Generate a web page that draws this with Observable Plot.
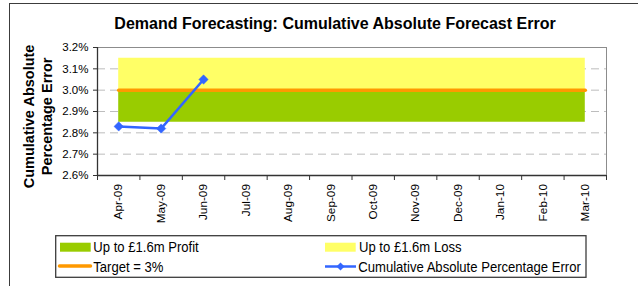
<!DOCTYPE html>
<html>
<head>
<meta charset="utf-8">
<script src="https://cdn.jsdelivr.net/npm/d3@7"></script>
<script src="https://cdn.jsdelivr.net/npm/@observablehq/plot@0.6"></script>
<style>
  html, body { margin: 0; padding: 0; background: #fff; }
  #wrap { position: relative; width: 638px; height: 286px; overflow: hidden; background: #fff; font-family: "Liberation Sans", Arial, sans-serif; }
  #frame { position: absolute; left: 9px; top: 3px; width: 700px; height: 400px; border: 1.5px solid #3c3c3c; box-sizing: border-box; }
  #chart { position: absolute; left: 0; top: 0; }
  #chart g[aria-label="x-axis tick label"], #chart g[aria-label="x-axis tick label"] text { font-size: 11.8px !important; font-family: "Liberation Sans", Arial, sans-serif !important; }
  #chart g[aria-label="y-axis tick label"], #chart g[aria-label="y-axis tick label"] text { font-size: 11.5px !important; font-family: "Liberation Sans", Arial, sans-serif !important; }
  #title { position: absolute; left: 0; top: 15.5px; width: 670px; text-align: center; font-weight: bold; font-size: 16px; line-height: 16px; color: #000; white-space: nowrap; }
  #ytitle { position: absolute; left: -62.5px; top: 97.6px; width: 200px; height: 36.8px; font-weight: bold; font-size: 14.5px; line-height: 18.4px; text-align: center; transform: rotate(-90deg); transform-origin: 50% 50%; color: #000; white-space: nowrap; }
  #legend { position: absolute; left: 0; top: 0; }
</style>
</head>
<body>
<div id="wrap">
  <div id="frame"></div>
  <div id="chart"></div>
  <div id="title">Demand Forecasting: Cumulative Absolute Forecast Error</div>
  <div id="ytitle">Cumulative Absolute<br>Percentage Error</div>
  <svg id="legend" width="638" height="286"></svg>
</div>
<script>
const months = ["Apr-09","May-09","Jun-09","Jul-09","Aug-09","Sep-09","Oct-09","Nov-09","Dec-09","Jan-10","Feb-10","Mar-10"];
const errorPct = [2.83, 2.82, 3.05];
const targetPct = [3, 3, 3, 3, 3, 3, 3, 3, 3, 3, 3, 3];
const profitFloor = [2.85, 2.85, 2.85, 2.85, 2.85, 2.85, 2.85, 2.85, 2.85, 2.85, 2.85, 2.85];
const lossCeiling = [3.15, 3.15, 3.15, 3.15, 3.15, 3.15, 3.15, 3.15, 3.15, 3.15, 3.15, 3.15];
const yTicks = [2.6, 2.7, 2.8, 2.9, 3.0, 3.1, 3.2];
const gridLines = [2.7, 2.8, 2.9, 3.0, 3.1];
const legendLabels = ["Up to £1.6m Profit", "Up to £1.6m Loss", "Target = 3%", "Cumulative Absolute Percentage Error"];

const bands = months.map((m, i) => ({pos: i + 0.5, low: profitFloor[i], target: targetPct[i], high: lossCeiling[i]}));
const errs = errorPct.map((v, i) => ({pos: i + 0.5, v}));
const boundaries = d3.range(months.length + 1);
const centers = months.map((m, i) => i + 0.5);

const plot = Plot.plot({
  width: 638,
  height: 286,
  marginLeft: 97,
  marginRight: 32,
  marginTop: 47,
  marginBottom: 111,
  style: {fontFamily: "'Liberation Sans', Arial, sans-serif", fontSize: "11px", color: "#000", background: "transparent"},
  x: {type: "linear", domain: [0, months.length]},
  y: {domain: [2.6, 3.2]},
  marks: [
    Plot.ruleY(gridLines, {stroke: "#bdbdbd", strokeWidth: 1, strokeDasharray: "8,5"}),
    Plot.areaY(bands, {x: "pos", y1: "low", y2: "target", fill: "#99cc00", curve: "linear"}),
    Plot.areaY(bands, {x: "pos", y1: "target", y2: "high", fill: "#ffff66", curve: "linear"}),
    Plot.line(bands, {x: "pos", y: "target", stroke: "#ff9900", strokeWidth: 3.5}),
    Plot.line(errs, {x: "pos", y: "v", stroke: "#3366ff", strokeWidth: 2.5}),
    Plot.dot(errs, {x: "pos", y: "v", symbol: "diamond2", r: 4.2, fill: "#3366ff", stroke: "#3366ff", strokeWidth: 0.5}),
    Plot.frame({stroke: "#8c8c8c", strokeWidth: 1}),
    Plot.ruleX([0], {stroke: "#333", strokeWidth: 1.3}),
    Plot.ruleY([2.6], {stroke: "#333", strokeWidth: 1.3}),
    Plot.axisY(yTicks, {tickSize: 4, tickPadding: 5, tickFormat: d => d.toFixed(1) + "%", stroke: "#333", fill: "#000", fontSize: 11.5, label: null}),
    Plot.axisX(boundaries, {tickSize: 5, tickFormat: () => "", stroke: "#333", label: null}),
    Plot.axisX(centers, {tickSize: 0, tickPadding: 8.5, tickRotate: -90, tickFormat: d => months[Math.floor(d)], fill: "#000", fontSize: 11.8, label: null})
  ]
});
document.getElementById("chart").appendChild(plot);

// Legend
const lg = d3.select("#legend");
lg.append("rect").attr("x", 55.7).attr("y", 235.7).attr("width", 530.3).attr("height", 41.6)
  .attr("fill", "#fff").attr("stroke", "#3c3c3c").attr("stroke-width", 1.3);
lg.append("rect").attr("x", 60).attr("y", 242.7).attr("width", 30.7).attr("height", 9).attr("fill", "#99cc00");
lg.append("rect").attr("x", 325).attr("y", 242.7).attr("width", 30.7).attr("height", 9).attr("fill", "#ffff66");
lg.append("line").attr("x1", 59.5).attr("x2", 90.5).attr("y1", 266).attr("y2", 266)
  .attr("stroke", "#ff9900").attr("stroke-width", 3.5).attr("stroke-linecap", "round");
lg.append("line").attr("x1", 325).attr("x2", 356).attr("y1", 266.5).attr("y2", 266.5)
  .attr("stroke", "#3366ff").attr("stroke-width", 2.5);
lg.append("path").attr("d", "M340.5,262.5L344.5,266.5L340.5,270.5L336.5,266.5Z").attr("fill", "#3366ff");
const lt = [[93.3, 251.7, legendLabels[0]], [359, 251.7, legendLabels[1]], [93.3, 271.7, legendLabels[2]], [358.3, 271.7, legendLabels[3]]];
lt.forEach(([x, y, t]) => {
  lg.append("text").attr("transform", `translate(${x},${y}) scale(0.873,1)`)
    .attr("font-family", "'Liberation Sans', Arial, sans-serif").attr("font-size", 15).attr("fill", "#000").text(t);
});
</script>
</body>
</html>
